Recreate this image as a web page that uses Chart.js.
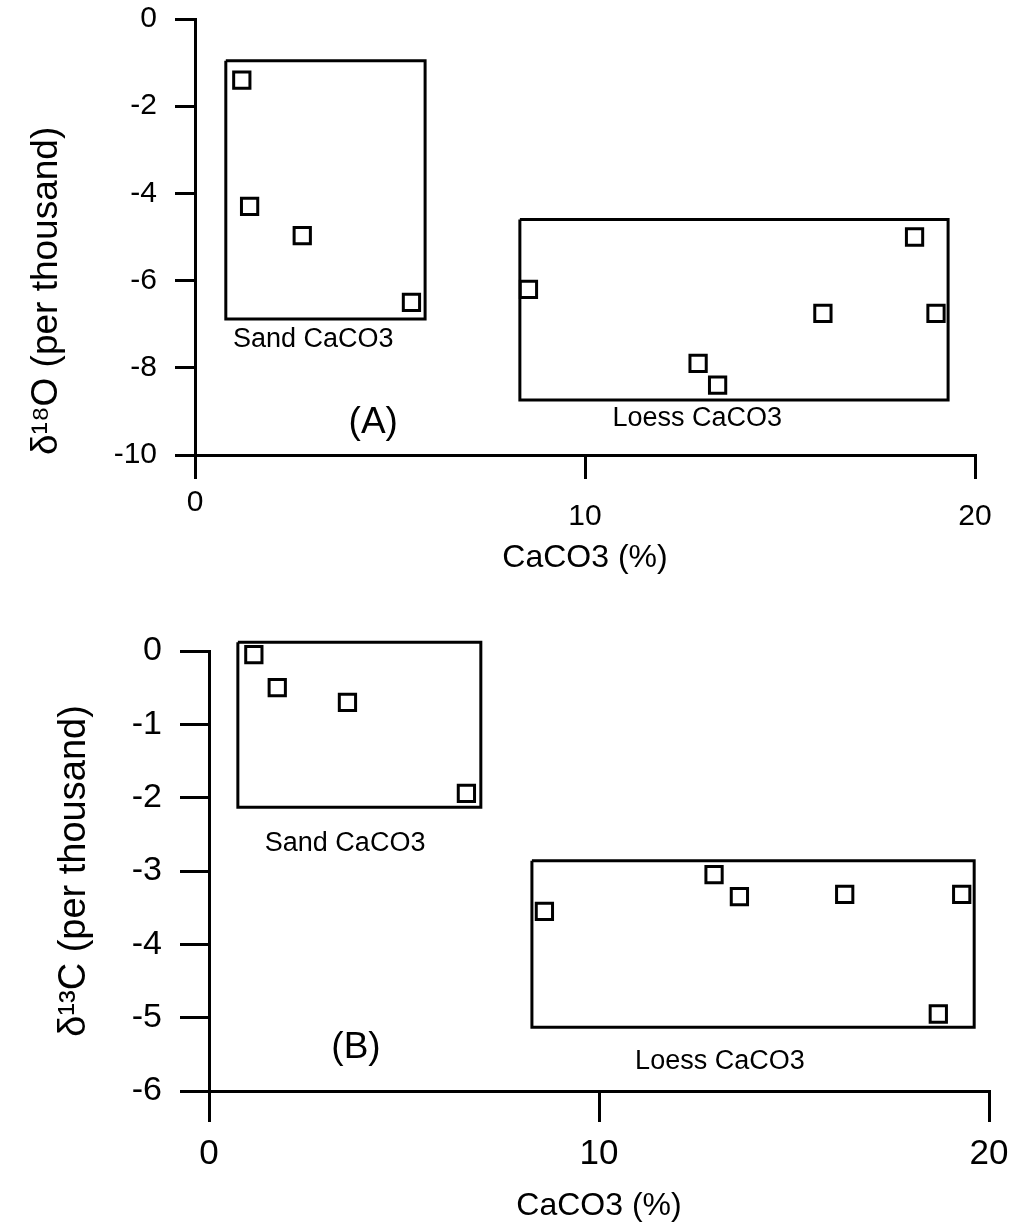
<!DOCTYPE html>
<html>
<head>
<meta charset="utf-8">
<script src="https://cdn.jsdelivr.net/npm/chart.js@4"></script>
<style>
  body { margin: 0; background: #fff; }
  canvas { display: block; }
</style>
</head>
<body>
<canvas id="graficoO" width="1019" height="600"></canvas>
<canvas id="graficoC" width="1019" height="628"></canvas>
<script>
// (A) delta 18O contra CaCO3
const sandCaco3O = [1.2, 1.4, 2.75, 5.55];
const sandO18 = [-1.4, -4.3, -4.97, -6.5];
const loessCaco3O = [8.55, 12.9, 13.4, 16.1, 18.45, 19.0];
const loessO18 = [-6.2, -7.9, -8.4, -6.75, -5.0, -6.75];

// (B) delta 13C contra CaCO3
const sandCaco3C = [1.15, 1.75, 3.55, 6.6];
const sandC13 = [-0.05, -0.5, -0.7, -1.94];
const loessCaco3C = [8.6, 12.95, 13.6, 16.3, 18.7, 19.3];
const loessC13 = [-3.55, -3.05, -3.35, -3.32, -4.95, -3.32];

// caixas dos grupos: [xMin, xMax, yTopo, yBase]
const sandBoxO = [0.79, 5.9, -0.96, -6.88];
const loessBoxO = [8.33, 19.31, -4.6, -8.74];
const sandBoxC = [0.74, 6.97, 0.12, -2.13];
const loessBoxC = [8.28, 19.62, -2.86, -5.13];

const xTicks = [0, 10, 20];
const yTicksO = [0, -2, -4, -6, -8, -10];
const yTicksC = [0, -1, -2, -3, -4, -5, -6];

const familia = '"Liberation Sans", Arial, Helvetica, sans-serif';

function pontos(xs, ys) {
  return xs.map((x, i) => ({ x, y: ys[i] }));
}

function caixa(b) {
  const [x0, x1, y0, y1] = b;
  return [{ x: x0, y: y0 }, { x: x1, y: y0 }, { x: x1, y: y1 }, { x: x0, y: y1 }, { x: x0, y: y0 }];
}

const notasPlugin = {
  id: 'notas',
  afterDatasetsDraw(chart, args, opts) {
    const { ctx, scales: { x, y } } = chart;
    ctx.save();
    ctx.fillStyle = '#000';
    ctx.textAlign = 'center';
    ctx.textBaseline = 'middle';
    for (const n of opts.itens || []) {
      ctx.font = n.size + 'px ' + familia;
      ctx.fillText(n.text, x.getPixelForValue(n.x), y.getPixelForValue(n.y));
    }
    ctx.restore();
  }
};

function datasetsPontos(sets) {
  return sets.map(d => ({
    data: d,
    pointStyle: 'rect',
    pointRadius: 11.5,
    pointBorderWidth: 3,
    pointBorderColor: '#000',
    pointBackgroundColor: '#fff',
    showLine: false,
    clip: false
  }));
}

function datasetsCaixas(boxes) {
  return boxes.map(b => ({
    type: 'line',
    data: caixa(b),
    borderColor: '#000',
    borderWidth: 3,
    borderJoinStyle: 'miter',
    pointRadius: 0,
    fill: false,
    tension: 0,
    clip: false
  }));
}

function criarGrafico(id, c) {
  const ctx = document.getElementById(id).getContext('2d');
  return new Chart(ctx, {
    type: 'scatter',
    data: {
      datasets: [...datasetsPontos(c.pontos), ...datasetsCaixas(c.caixas)]
    },
    options: {
      responsive: false,
      animation: false,
      layout: { padding: c.padding },
      plugins: {
        legend: { display: false },
        tooltip: { enabled: false },
        notas: { itens: c.notas }
      },
      scales: {
        x: {
          type: 'linear',
          min: 0,
          max: 20,
          afterBuildTicks: s => { s.ticks = xTicks.map(v => ({ value: v })); },
          afterFit: s => { s.height = c.alturaX; s.paddingLeft = 0; s.paddingRight = 0; },
          border: { display: true, color: '#000', width: 3 },
          grid: { drawOnChartArea: false, drawTicks: true, tickLength: c.xTick, color: '#000', lineWidth: 3 },
          ticks: {
            color: '#000',
            padding: c.xPad,
            maxRotation: 0,
            font: c.xFont,
            callback: c.xLabel || (v => String(v))
          },
          title: {
            display: true,
            text: 'CaCO3 (%)',
            color: '#000',
            font: { family: familia, size: 32 },
            padding: c.xTitlePad
          }
        },
        y: {
          type: 'linear',
          min: c.yMin,
          max: 0,
          afterBuildTicks: s => { s.ticks = c.yTicks.map(v => ({ value: v })); },
          afterFit: s => { s.width = c.larguraY; s.paddingTop = 0; s.paddingBottom = 0; },
          border: { display: true, color: '#000', width: 3 },
          grid: { drawOnChartArea: false, drawTicks: true, tickLength: c.yTick, color: '#000', lineWidth: 3 },
          ticks: {
            color: '#000',
            padding: c.yPad,
            font: { family: familia, size: c.yFont }
          },
          title: {
            display: true,
            text: c.yTitulo,
            color: '#000',
            align: c.yAlign,
            font: { family: familia, size: c.yTituloSize },
            padding: c.yTitlePad
          }
        }
      }
    },
    plugins: [notasPlugin]
  });
}

criarGrafico('graficoO', {
  pontos: [pontos(sandCaco3O, sandO18), pontos(loessCaco3O, loessO18)],
  caixas: [sandBoxO, loessBoxO],
  padding: { top: 19, right: 44, left: 0, bottom: 0 },
  alturaX: 145,
  larguraY: 195,
  xTick: 24,
  xPad: 17,
  xFont: { family: familia, size: 30, lineHeight: '14px' },
  xLabel: v => (v === 0 ? '0' : ['', String(v)]),
  xTitlePad: { top: 22.8, bottom: 22.8 },
  yMin: -10,
  yTicks: yTicksO,
  yTick: 20,
  yPad: 18,
  yFont: 30,
  yTitulo: 'δ¹⁸O (per thousand)',
  yTituloSize: 37,
  yAlign: 'start',
  yTitlePad: { top: 25, bottom: 25 },
  notas: [
    { text: 'Sand CaCO3', x: 3.03, y: -7.36, size: 27 },
    { text: '(A)', x: 4.57, y: -9.26, size: 37 },
    { text: 'Loess CaCO3', x: 12.88, y: -9.17, size: 27 }
  ]
});

criarGrafico('graficoC', {
  pontos: [pontos(sandCaco3C, sandC13), pontos(loessCaco3C, loessC13)],
  caixas: [sandBoxC, loessBoxC],
  padding: { top: 51, right: 30, left: 0, bottom: 0 },
  alturaX: 137,
  larguraY: 209,
  xTick: 31,
  xPad: 11,
  xFont: { family: familia, size: 35 },
  xTitlePad: { top: 2.8, bottom: 2.8 },
  yMin: -6,
  yTicks: yTicksC,
  yTick: 29,
  yPad: 18,
  yFont: 34,
  yTitulo: 'δ¹³C (per thousand)',
  yTituloSize: 38,
  yAlign: 'center',
  yTitlePad: { top: 52, bottom: 52 },
  notas: [
    { text: 'Sand CaCO3', x: 3.49, y: -2.63, size: 27 },
    { text: '(B)', x: 3.77, y: -5.41, size: 37 },
    { text: 'Loess CaCO3', x: 13.1, y: -5.6, size: 27 }
  ]
});
</script>
</body>
</html>
